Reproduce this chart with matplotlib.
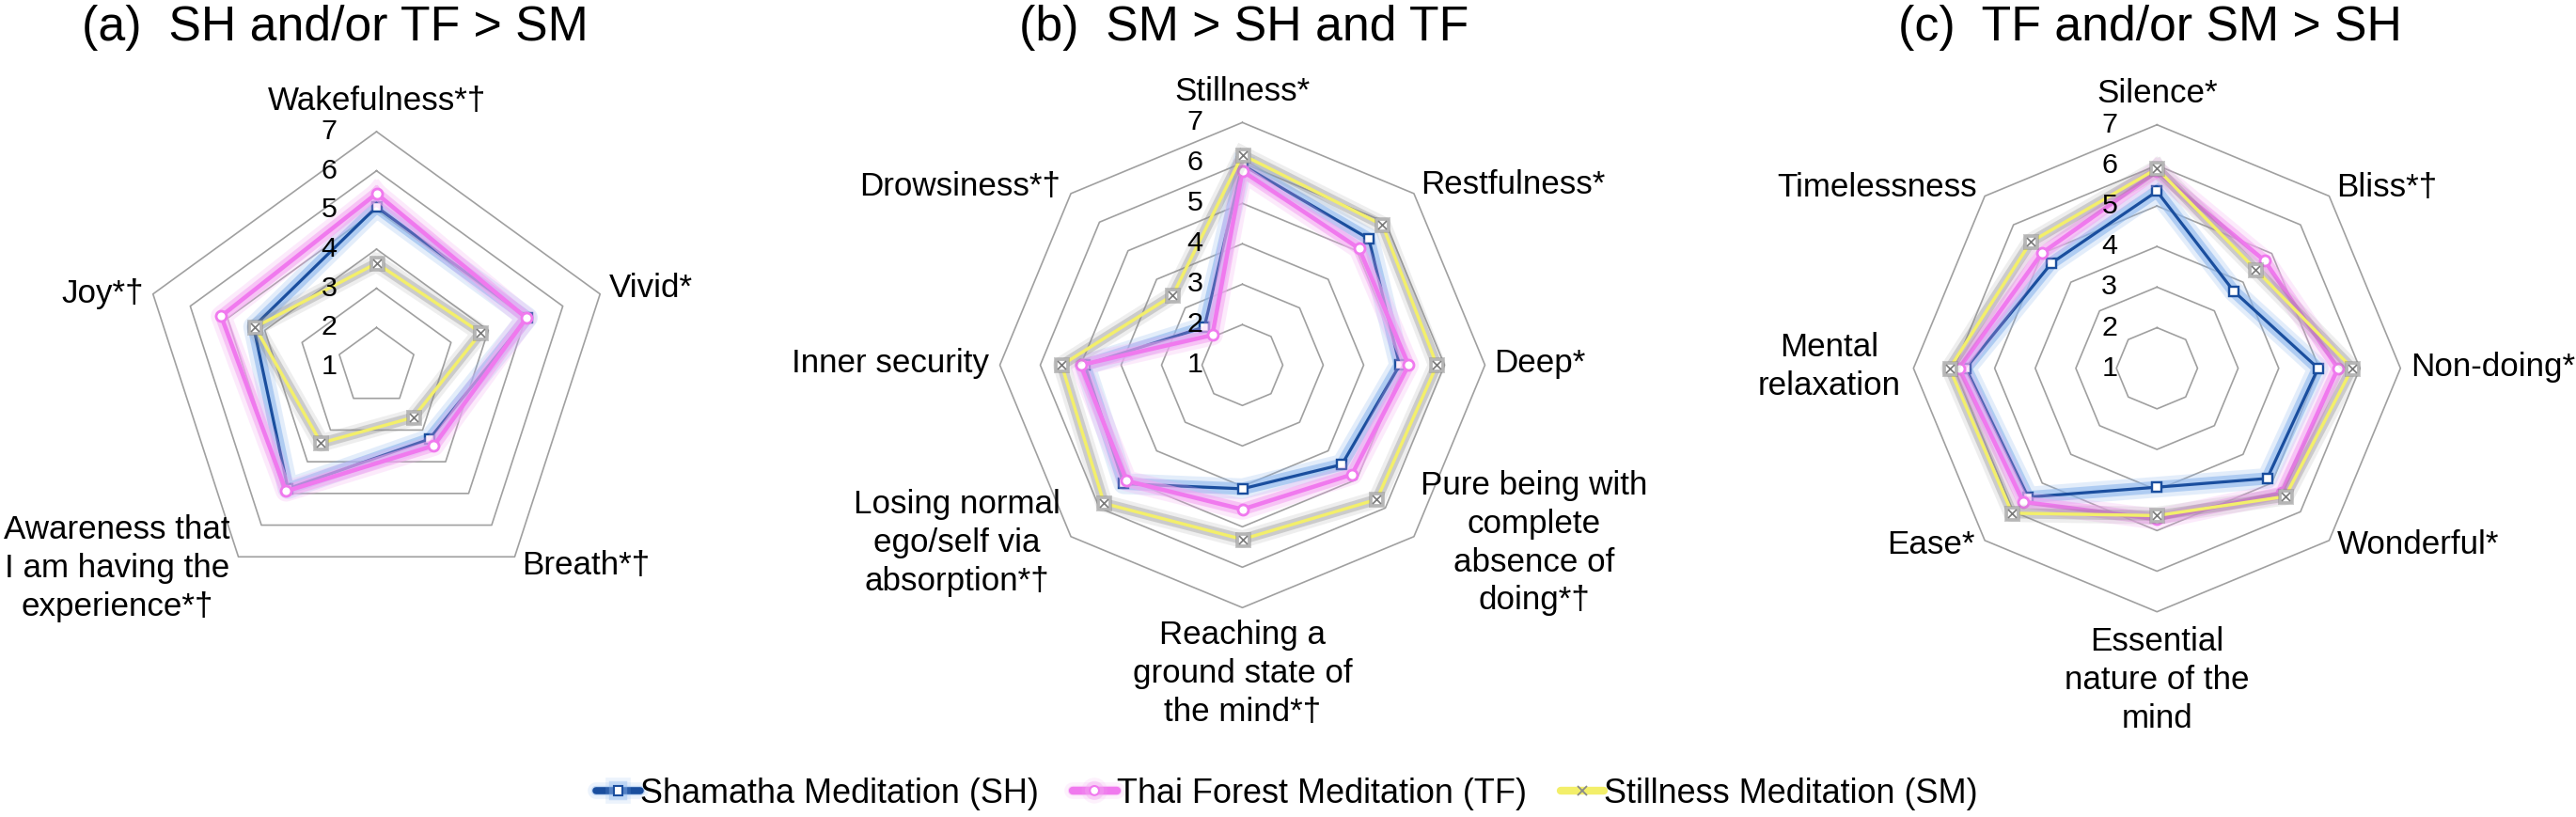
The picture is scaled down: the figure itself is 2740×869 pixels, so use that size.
import numpy as np
import matplotlib
matplotlib.use("Agg")
import matplotlib.pyplot as plt
import matplotlib.patheffects as pe
from matplotlib.lines import Line2D

plt.rcParams['font.family'] = ['Liberation Sans', 'DejaVu Sans']

# ---------------- data ----------------
series_names = ["Shamatha Meditation (SH)", "Thai Forest Meditation (TF)", "Stillness Meditation (SM)"]
scale_ticks = [1, 2, 3, 4, 5, 6, 7]

titles = ["(a)  SH and/or TF > SM", "(b)  SM > SH and TF", "(c)  TF and/or SM > SH"]

cats_a = ["Wakefulness*†", "Vivid*", "Breath*†", "Awareness that\nI am having the\nexperience*†", "Joy*†"]
sh_a = [5.08, 5.05, 3.29, 4.85, 4.30]
tf_a = [5.42, 5.02, 3.49, 4.93, 5.17]
sm_a = [3.64, 3.80, 2.60, 3.41, 4.26]

cats_b = ["Stillness*", "Restfulness*", "Deep*", "Pure being with\ncomplete\nabsence of\ndoing*†",
          "Reaching a\nground state of\nthe mind*†", "Losing normal\nego/self via\nabsorption*†",
          "Inner security", "Drowsiness*†"]
sh_b = [5.95, 5.42, 4.89, 4.48, 4.06, 5.15, 4.90, 2.33]
tf_b = [5.80, 5.08, 5.11, 4.83, 4.57, 5.05, 5.00, 2.05]
sm_b = [6.20, 5.90, 5.81, 5.70, 5.31, 5.84, 5.47, 3.44]

cats_c = ["Silence*", "Bliss*†", "Non-doing*", "Wonderful*", "Essential\nnature of the\nmind",
          "Ease*", "Mental\nrelaxation", "Timelessness"]
sh_c = [5.36, 3.68, 4.97, 4.84, 3.93, 5.49, 5.71, 4.67]
tf_c = [5.85, 4.75, 5.46, 5.34, 4.72, 5.66, 5.88, 5.01]
sm_c = [5.92, 4.44, 5.81, 5.47, 4.63, 6.05, 6.11, 5.40]

# ---------------- layout / style ----------------
W, H = 2740, 869
DPI = 100
PT = 72.0 / DPI  # px -> points

SH_C, SH_G = "#1A4E9E", "#8DB7EE"
TF_C, TF_G = "#F079EE", "#F4A8F2"
SM_C, SM_G = "#F3EF6A", "#8C8C8C"
GRID_C = "#A0A0A0"

# centre (px), radius (px)
panels = [
    dict(cx=400.5, cy=390.0, R=250.0, title_x=356),
    dict(cx=1321.5, cy=388.3, R=258.0, title_x=1323),
    dict(cx=2294.3, cy=391.7, R=259.0, title_x=2287),
]
# label offsets in px from outer vertex: (dx, dy_up, ha)
label_pos = [
    [(0, 32, 'center'), (10, 6, 'left'), (8, -9, 'left'), (-9, -12, 'right'), (-10, 0, 'right')],
    [(0, 33, 'center'), (7, 9, 'left'), (10, 2, 'left'), (7, -7, 'left'), (0, -70, 'center'),
     (-11, -7, 'right'), (-11, 2, 'right'), (-11, 7.5, 'right')],
    [(0, 33, 'center'), (8, 9, 'left'), (11, 1, 'left'), (8, -4.5, 'left'), (0, -73, 'center'),
     (-11, -4.5, 'right'), (-14, 2, 'right'), (-8, 9, 'right')],
]

LABEL_FS = 35 * PT
TICK_FS = 30.5 * PT
TITLE_FS = 51.7 * PT
LEG_FS = 36 * PT


def glow(color, width, alpha):
    return [pe.Stroke(linewidth=width * 1.7, foreground=color, alpha=alpha * 0.4),
            pe.Stroke(linewidth=width, foreground=color, alpha=alpha),
            pe.Normal()]


fig = plt.figure(figsize=(W / DPI, H / DPI), dpi=DPI)
fig.patch.set_facecolor("white")

datasets = [(cats_a, sh_a, tf_a, sm_a), (cats_b, sh_b, tf_b, sm_b), (cats_c, sh_c, tf_c, sm_c)]

for p, (cats, sh, tf, sm), lp, title in zip(panels, datasets, label_pos, titles):
    cx, cy, R = p["cx"], p["cy"], p["R"]
    ax = fig.add_axes([(cx - R) / W, (H - cy - R) / H, 2 * R / W, 2 * R / H], projection='polar')
    ax.set_aspect('auto')
    ax.set_theta_zero_location('N')
    ax.set_theta_direction(-1)
    ax.set_ylim(scale_ticks[0], scale_ticks[-1])
    ax.set_xticks([])
    ax.set_yticks([])
    ax.grid(False)
    ax.spines['polar'].set_visible(False)
    ax.patch.set_alpha(0)

    n = len(cats)
    theta = np.linspace(0, 2 * np.pi, n, endpoint=False)
    th_c = np.append(theta, theta[0])

    # polygon gridlines
    for lev in scale_ticks[1:]:
        ax.plot(th_c, [lev] * (n + 1), color=GRID_C, lw=1.2, zorder=1, clip_on=False)

    # tick labels along top axis
    for v in scale_ticks:
        ax.annotate(str(v), xy=(0, v), xytext=(-42 * PT, 0), textcoords='offset points',
                    ha='right', va='center', fontsize=TICK_FS, color='black',
                    annotation_clip=False, zorder=6)

    def closed(vals):
        return np.append(vals, vals[0])

    ax.plot(th_c, closed(sh), color=SH_C, lw=3.2 * PT, zorder=3, clip_on=False,
            path_effects=glow(SH_G, 13 * PT, 0.6))
    ax.plot(theta, sh, ls='none', marker='s', ms=10 * PT, mfc='white', mec=SH_C, mew=2.4 * PT,
            zorder=3.1, clip_on=False)

    ax.plot(th_c, closed(tf), color=TF_C, lw=4.5 * PT, zorder=4, clip_on=False,
            path_effects=glow(TF_G, 13 * PT, 0.6))
    ax.plot(theta, tf, ls='none', marker='o', ms=11 * PT, mfc='white', mec=TF_C, mew=2.8 * PT,
            zorder=4.1, clip_on=False)

    ax.plot(th_c, closed(sm), color=SM_C, lw=3.4 * PT, zorder=5, clip_on=False,
            path_effects=glow(SM_G, 11 * PT, 0.35))
    ax.plot(theta, sm, ls='none', marker='s', ms=12 * PT, mfc='white', mec='#B5B5B5', mew=2.8 * PT,
            zorder=5.1, clip_on=False,
            path_effects=[pe.Stroke(linewidth=5 * PT, foreground=SM_G, alpha=0.45), pe.Normal()])
    ax.plot(theta, sm, ls='none', marker='x', ms=9 * PT, mec='#7A7A7A', mew=1.7 * PT,
            zorder=5.2, clip_on=False)

    # category labels
    for t, lab, (dx, dy, ha) in zip(theta, cats, lp):
        ax.annotate(lab, xy=(t, scale_ticks[-1]), xytext=(dx * PT, dy * PT), textcoords='offset points',
                    ha=ha, va='center', multialignment='center', fontsize=LABEL_FS,
                    linespacing=1.3, annotation_clip=False, zorder=6)

    fig.text(p["title_x"] / W, 1 - 43 / H, title, ha='center', va='baseline', fontsize=TITLE_FS)

# legend
h_sh = Line2D([], [], color=SH_C, lw=5.5, marker='s', ms=7, mfc='white', mec=SH_C, mew=1.5,
              solid_capstyle='round', path_effects=glow(SH_G, 7.5, 0.4))
h_tf = Line2D([], [], color=TF_C, lw=6.0, marker='o', ms=7, mfc='white', mec=TF_C, mew=1.5,
              solid_capstyle='round', path_effects=glow(TF_G, 7.5, 0.4))
h_sm = Line2D([], [], color=SM_C, lw=6.0, marker='x', ms=7, mec='#8A8A8A', mew=1.3,
              solid_capstyle='round')
fig.legend([h_sh, h_tf, h_sm], series_names, loc='center', bbox_to_anchor=(1369 / W, 1 - 844 / H),
           ncol=3, frameon=False, handlelength=1.3, handletextpad=0.0, columnspacing=1.0,
           fontsize=LEG_FS, borderpad=0, borderaxespad=0)

fig.savefig("out.png", dpi=DPI, facecolor="white")
